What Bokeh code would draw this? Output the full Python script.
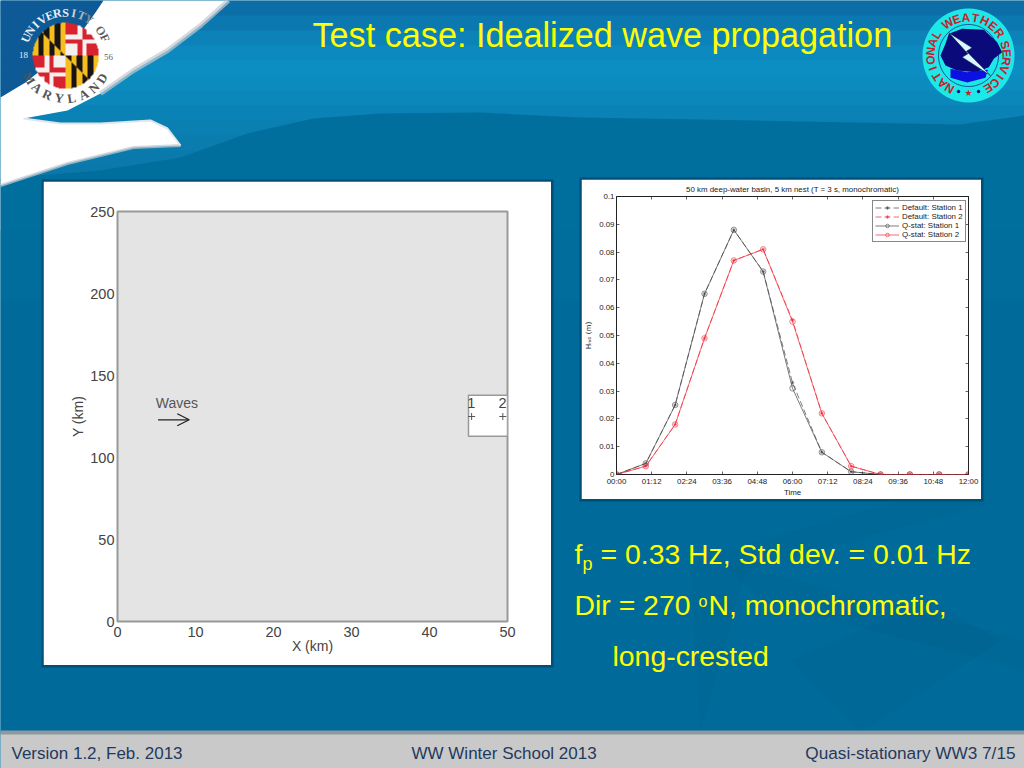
import numpy as np
from bokeh.plotting import figure
from bokeh.layouts import column
from bokeh.models import Range1d, FixedTicker, LinearAxis, Arrow, OpenHead
from bokeh.core.properties import value
from bokeh.embed import file_html
from bokeh.resources import INLINE

# ---- data ----
hours = [0, 1, 2, 3, 4, 5, 6, 7, 8, 9, 10, 11, 12]
default_st1 = [0, .004, .025, .065, .088, .073, .033, .008, .001, 0, 0, 0, 0]
default_st2 = [0, .003, .018, .049, .077, .081, .0555, .022, .003, 0, 0, 0, 0]
qstat_st1 = [0, .004, .025, .065, .088, .073, .031, .008, .001, 0, 0, 0, 0]
qstat_st2 = [0, .003, .018, .049, .077, .081, .055, .022, .003, 0, 0, 0, 0]
time_ticks = [0, 1.2, 2.4, 3.6, 4.8, 6, 7.2, 8.4, 9.6, 10.8, 12]
time_labels = ["00:00", "01:12", "02:24", "03:36", "04:48", "06:00", "07:12", "08:24", "09:36", "10:48", "12:00"]
hs_ticks = [0, .01, .02, .03, .04, .05, .06, .07, .08, .09, .1]
hs_labels = ["0", "0.01", "0.02", "0.03", "0.04", "0.05", "0.06", "0.07", "0.08", "0.09", "0.1"]
x_km_ticks = [0, 10, 20, 30, 40, 50]
y_km_ticks = [0, 50, 100, 150, 200, 250]
nest_x = [45, 50]
nest_y = [113, 138]
station_x = [45.4, 49.4]
station_y = [125, 125]
station_names = ["1", "2"]

SANS = value("Liberation Sans")
SERIF = value("Liberation Serif")

# ---- slide background ----
bg = figure(width=1024, height=768, x_range=Range1d(0, 1024), y_range=Range1d(768, 0),
            x_axis_type=None, y_axis_type=None, toolbar_location=None, output_backend="svg",
            min_border=0, outline_line_color=None, background_fill_color="#006c9b",
            border_fill_color="#006c9b")

ys = np.array([0, 15, 30, 45, 60, 75, 90, 105, 120, 135, 150, 165, 180])
cols = ["#0b6ea6", "#0c78b0", "#0c82b8", "#0c8abf", "#0c8ec2", "#0c8bbf", "#0b87bb", "#0a82b5",
        "#0a7fb2", "#0a7cae", "#0a7aac", "#0a78aa", "#0a78aa"]
bg.quad(left=0, right=1024, top=ys[:-1], bottom=ys[1:] + 1, fill_color=cols[:-1], line_color=None)

# lower darker sea
wx = [0, 100, 180, 247, 313, 380, 480, 580, 700, 850, 960, 1024, 1024, 0]
wy = [178, 170, 157, 133, 118, 113, 112, 117, 119, 122, 124, 115, 768, 768]
bg.patch(wx, wy, fill_color="#006f9e", line_color=None)
bg.quad(left=0, right=1024, top=300, bottom=732, fill_color="#006b9a", line_color=None)
bg.patch([0, 1024, 1024, 0], [230, 230, 300, 300], fill_color="#006d9c", line_color=None)

# faint compass star, lower right
for xs_, ys_ in [([1000, 745, 700, 690, 900], [500, 570, 732, 560, 500]),
                 ([720, 1024, 1024, 760], [560, 640, 670, 600]),
                 ([860, 1000, 930, 790], [732, 640, 600, 660])]:
    bg.patch(xs_, ys_, fill_color="#004f7a", fill_alpha=0.10, line_color=None)

# top-left navy corner + white swoosh
bg.patch([0, 103, 95, 75, 50, 25, 0], [0, 0, 12, 40, 62, 82, 97], fill_color="#0d5a96", line_color=None)
sx = [103, 228, 214, 200, 167, 133, 100, 67, 23, 60, 100, 150, 167, 180, 133, 67, 0, 0, 25, 50, 75, 95]
sy = [0, 0, 13, 25, 50, 70, 93, 110, 118, 123, 123, 120, 128, 145, 147, 163, 185, 97, 82, 62, 40, 12]
bg.patch(sx, sy, fill_color="#ffffff", line_color=None)
bg.line([228, 200, 167, 133, 100], [0, 25, 50, 70, 93], line_color="#c4cad0", line_width=5, line_alpha=0.7)
bg.line([180, 133, 67, 0], [145, 147, 163, 185], line_color="#c4cad0", line_width=3, line_alpha=0.7)
bg.line([23, 60, 100, 150, 167, 180], [118, 123, 123, 120, 128, 145], line_color="#dfe5ea", line_width=2)

# UMD seal
cx, cy, R = 65, 55, 33
n = 132
px = (np.arange(n) + .5) / n * 2 - 1
X, Y = np.meshgrid(px, px)
img32 = np.zeros((n, n), dtype=np.uint32)
img = img32.view(np.uint8).reshape((n, n, 4))
BLACK, GOLD, RED, WHITE = (25, 20, 20), (245, 190, 30), (215, 35, 45), (245, 240, 240)
for j in range(n):
    for i in range(n):
        u, v = X[j, i], Y[j, i]
        if u * u + v * v > 1:
            continue
        left, top = u < 0, v < 0
        if left == top:
            a, b = (u + 1 if left else u), (v + 1 if top else v)
            band = int(a * 6) + (1 if b > a else 0)
            c_ = GOLD if band % 2 else BLACK
        else:
            a, b = (u + 1 if left else u), (v + 1 if top else v)
            q = ((a < .5) == (b < .5))
            arm = abs(a - .5) < .13 or abs(b - .5) < .13
            c_ = (WHITE if q else RED) if arm else (RED if q else WHITE)
        img[j, i] = (*c_, 255)
bg.image_rgba(image=[img32], x=cx - R, y=cy - R, dw=2 * R, dh=2 * R)


def ring(p, txt_, c_x, c_y, r, a0, a1, color, size, font=SANS, style="normal", flip=False):
    ang = np.linspace(a0, a1, len(txt_)) if len(txt_) > 1 else [a0]
    for ch, th_, col in zip(txt_, ang, color if isinstance(color, list) else [color] * len(txt_)):
        t = np.radians(th_)
        rot = t + (np.pi / 2 if flip else -np.pi / 2)
        p.text([c_x + r * np.cos(t)], [c_y - r * np.sin(t)], text=[ch], angle=rot, text_color=col,
               text_font=font, text_font_size=f"{size}px", text_font_style=style,
               text_align="center", text_baseline="middle")


ring(bg, "UNIVERSITY OF", cx, cy, 43, 156, 24,
     ["#e8eef4"] * 7 + ["#d0d4d8", "#b0b4b8", "#888888", "#777777", "#666666", "#555555"], 12, SERIF, "bold")
ring(bg, "MARYLAND", cx, cy, 43, -148, -32, "#555555", 13, SERIF, "bold", flip=True)
bg.text([23], [54], text=["18"], text_color="#e8eef4", text_font=SERIF, text_font_size="9px",
        text_align="center", text_baseline="middle")
bg.text([108], [56], text=["56"], text_color="#666666", text_font=SERIF, text_font_size="9px",
        text_align="center", text_baseline="middle")

# NWS logo
th = np.radians(np.arange(0, 360, 4))
bg.patch(968 + 46 * np.cos(th), 55 + 47 * np.sin(th), fill_color="#1de8e8", line_color=None)
bg.patch(968 + 30 * np.cos(th), 55 + 31 * np.sin(th), fill_color="#1de8e8", line_color="#0a1a70", line_width=0.7)
blob = [(145, 100), (185, 85), (250, 88), (290, 125), (305, 155), (280, 175), (265, 200), (225, 215),
        (170, 210), (135, 195), (120, 165), (135, 130)]
bg.patch([900 + a / 3 for a, b in blob], [b / 3 for a, b in blob], fill_color="#0a0a7a", line_color=None)
water = [(150, 205), (200, 215), (262, 208), (255, 232), (200, 246), (150, 232)]
bg.patch([900 + a / 3 for a, b in water], [b / 3 for a, b in water], fill_color="#0c10e0", line_color=None)
bolt = [(145, 97), (215, 142), (198, 152), (270, 225), (185, 170), (202, 160)]
bg.patch([900 + a / 3 for a, b in bolt], [b / 3 for a, b in bolt], fill_color="#d8f8ff", line_color="#0a1a40", line_width=0.6)
ring(bg, "NATIONAL", 968, 55, 38, 240, 147, "#c8202c", 12, SANS, "bold")
ring(bg, "WEATHER", 968, 55, 38, 123, 36, "#c8202c", 12, SANS, "bold")
ring(bg, "SERVICE", 968, 55, 38, 16, -59, "#c8202c", 12, SANS, "bold")
bg.text([968], [92], text=["★"], text_color="#c8202c", text_font_size="9px", text_align="center",
        text_baseline="middle", text_font=value("DejaVu Sans"))
bg.scatter([958, 978], [91, 91], size=2.5, color="#0a0a7a")

# panel borders
bg.quad(left=41, right=553, top=179, bottom=667, fill_color="#004f78", line_color=None)
bg.quad(left=579, right=983, top=177, bottom=501, fill_color="#004f78", line_color=None)


def txt(x, y, s, size, color="#ffff00", align="left"):
    # y is the wanted baseline; the drawn text sits about 0.36 em below the anchor
    bg.text([x], [y - 0.36 * size], text=[s], text_color=color, text_font=SANS, text_font_size=f"{size}px",
            text_align=align, text_baseline="alphabetic")


txt(312, 47, "Test case: Idealized wave propagation", 34.2)
txt(574, 564, "f", 28.4)
txt(582, 570, "p", 18)
txt(600, 564, "= 0.33 Hz, Std dev. = 0.01 Hz", 28.4)
txt(574, 615, "Dir = 270 ", 28.4)
txt(698, 607, "o", 16)
txt(708, 615, "N, monochromatic,", 28.4)
txt(612, 666, "long-crested", 28.4)

# footer
bg.quad(left=0, right=1024, top=730, bottom=735, fill_color="#8f989c", line_color=None)
bg.quad(left=0, right=1024, top=734, bottom=768, fill_color="#c9c9c9", line_color=None)
txt(11, 759, "Version 1.2, Feb. 2013", 17, "#1f3a5f")
txt(411, 759, "WW Winter School 2013", 17, "#1f3a5f")
txt(1015, 759, "Quasi-stationary WW3 7/15", 17.2, "#1f3a5f", "right")

# ---- left chart: domain map ----
m = figure(width=508, height=484, x_range=Range1d(0, 50), y_range=Range1d(0, 250),
           toolbar_location=None, output_backend="svg", min_border_left=74, min_border_right=44,
           min_border_top=30, min_border_bottom=44, background_fill_color="#e4e4e4",
           border_fill_color="#ffffff", outline_line_color="#999999", outline_line_width=2,
           x_axis_label="X (km)", y_axis_label="Y (km)")
m.grid.visible = False
m.xaxis.ticker = FixedTicker(ticks=x_km_ticks)
m.yaxis.ticker = FixedTicker(ticks=y_km_ticks)
for ax in (m.xaxis[0], m.yaxis[0]):
    ax.major_tick_line_color = None
    ax.major_tick_in = 0
    ax.major_tick_out = 0
    ax.minor_tick_line_color = None
    ax.minor_tick_out = 0
    ax.axis_line_color = None
    ax.major_label_text_font = "Liberation Sans"
    ax.major_label_text_font_size = "14.5px"
    ax.major_label_text_color = "#444444"
    ax.axis_label_text_font = "Liberation Sans"
    ax.axis_label_text_font_size = "14px"
    ax.axis_label_text_font_style = "normal"
    ax.axis_label_text_color = "#444444"
    ax.major_label_standoff = 3
m.xaxis.major_label_standoff = 5
m.xaxis.axis_label_standoff = -2
m.yaxis.major_label_orientation = "horizontal"
m.yaxis.axis_label_standoff = 1
m.quad(left=nest_x[0], right=nest_x[1], bottom=nest_y[0], top=nest_y[1], fill_color="#ffffff",
       line_color="#999999", line_width=1.5)
m.text(x=[s - 0.05 for s in station_x], y=[133.5, 133.5], text=station_names, text_color="#444444",
       text_font=SANS, text_font_size="14.5px", text_align="center", text_baseline="middle")
m.scatter(station_x, station_y, marker="cross", size=7, line_color="#555555")
m.text([4.9], [133], text=["Waves"], text_color="#555555", text_font=SANS, text_font_size="14px",
       text_align="left", text_baseline="middle")
m.add_layout(Arrow(end=OpenHead(size=12, line_color="#222222", line_width=1.3), x_start=5.2, y_start=123,
                   x_end=9.2, y_end=123, line_color="#222222", line_width=1.3))

# ---- right chart: wave height ----
c = figure(width=400, height=320, x_range=Range1d(0, 12), y_range=Range1d(0, 0.1),
           toolbar_location=None, output_backend="svg", min_border_left=35, min_border_right=13,
           min_border_top=17, min_border_bottom=25, background_fill_color="#ffffff",
           border_fill_color="#ffffff", outline_line_color="#222222", outline_line_width=1,
           x_axis_label="Time", y_axis_label="Hₘ₀ (m)")
c.grid.visible = False
c.title.text = "50 km deep-water basin, 5 km nest (T = 3 s, monochromatic)"
c.title.text_font = "Liberation Sans"
c.title.text_font_size = "7.9px"
c.title.text_font_style = "normal"
c.title.text_color = "#222222"
c.title.align = "center"
c.title.standoff = 5
c.add_layout(LinearAxis(), "above")
c.add_layout(LinearAxis(), "right")
for ax in c.xaxis + c.yaxis:
    ax.minor_tick_line_color = None
    ax.major_tick_in = 3
    ax.major_tick_out = 0
    ax.major_tick_line_color = "#222222"
    ax.major_tick_line_width = 0.7
    ax.axis_line_color = None
    ax.major_label_text_font = "Liberation Sans"
    ax.major_label_text_font_size = "7.9px"
    ax.major_label_text_color = "#222222"
    ax.major_label_standoff = 2
for ax in c.xaxis:
    ax.ticker = FixedTicker(ticks=time_ticks)
    ax.major_label_overrides = dict(zip(time_ticks, time_labels))
for ax in c.yaxis:
    ax.ticker = FixedTicker(ticks=hs_ticks)
    ax.major_label_overrides = dict(zip(hs_ticks, hs_labels))
    ax.major_label_orientation = "horizontal"
for ax in (c.above[0], c.right[0]):
    ax.major_label_text_color = None
    ax.major_label_text_font_size = "1px"
    ax.major_label_standoff = 0
low = c.below[0]
low.axis_label_text_font = "Liberation Sans"
low.axis_label_text_font_size = "7.9px"
low.axis_label_text_font_style = "normal"
low.axis_label_text_color = "#222222"
low.axis_label_standoff = -1
low.axis_label_text_line_height = 0.8
low.major_label_text_line_height = 0.8
lft = c.left[0]
lft.axis_label_text_font = "DejaVu Sans"
lft.axis_label_text_font_size = "7.2px"
lft.axis_label_text_font_style = "normal"
lft.axis_label_text_color = "#222222"
lft.axis_label_standoff = 3
lft.major_label_standoff = 2

series = [("Default: Station 1", default_st1, "#444444", "6 3", "asterisk", 3.5),
          ("Default: Station 2", default_st2, "#f02838", "6 3", "asterisk", 3.5),
          ("Q-stat: Station 1", qstat_st1, "#444444", "solid", "circle", 5.5),
          ("Q-stat: Station 2", qstat_st2, "#f02838", "solid", "circle", 5.5)]
for name, vals, col, dash, mk, sz in series:
    c.line(hours, vals, line_color=col, line_width=0.7, line_dash=dash, legend_label=name)
    c.scatter(hours, vals, marker=mk, size=sz, line_color=col, line_width=0.6, fill_color=None, legend_label=name)

lg = c.legend[0]
lg.location = (256, 232)
lg.label_text_font = "Liberation Sans"
lg.label_text_font_size = "7.9px"
lg.label_text_color = "#222222"
lg.label_height = 9
lg.glyph_height = 9
lg.glyph_width = 24
lg.label_standoff = 3
lg.spacing = 0
lg.margin = 0
lg.padding = 2
lg.border_line_color = "#111111"
lg.border_line_width = 1.5
lg.background_fill_alpha = 1

# each figure sits in its own column, so that their plot frames are not aligned with one another
page = column(column(bg),
              column(m, margin=(181 - 768, 0, 0, 43)),
              column(c, margin=(179 - 665, 0, 0, 581)))
open("out.html", "w").write(file_html(page, INLINE))
